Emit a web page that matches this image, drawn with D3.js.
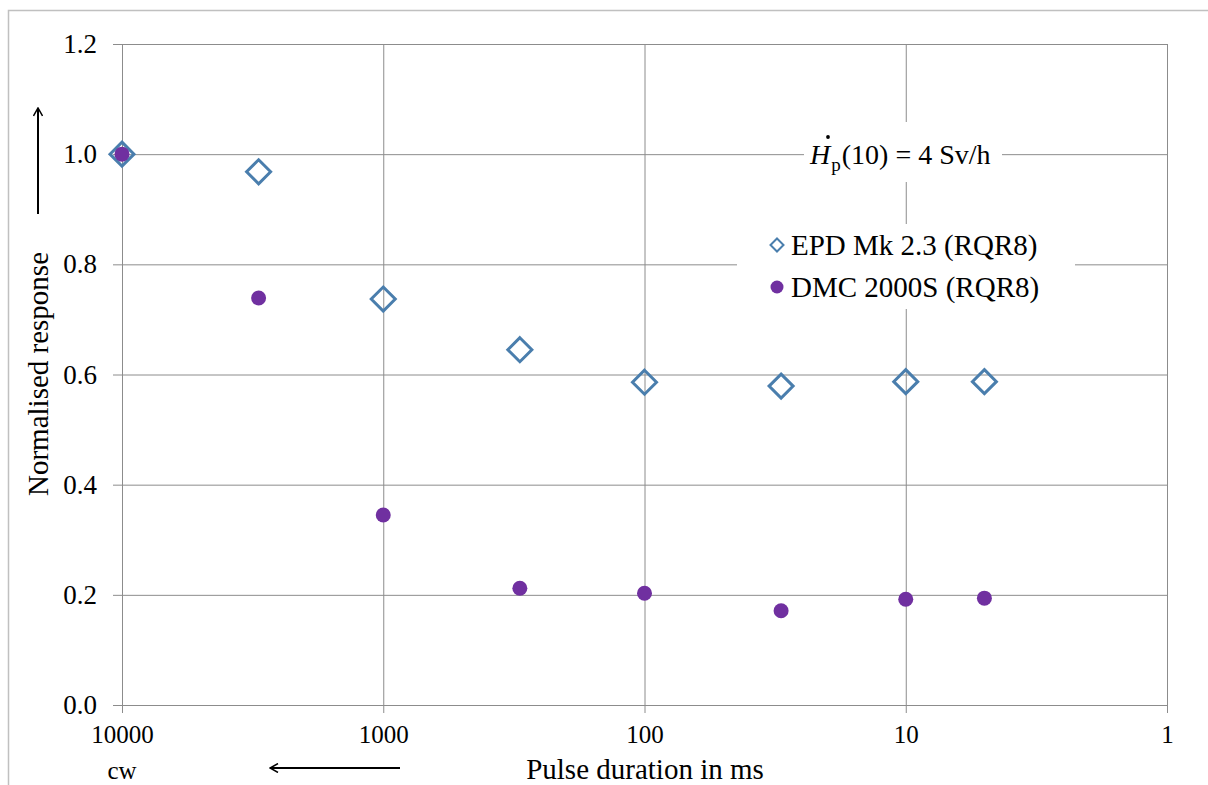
<!DOCTYPE html>
<html>
<head>
<meta charset="utf-8">
<script src="https://cdn.jsdelivr.net/npm/d3@7"></script>
<style>
  body { margin: 0; background: #fff; }
  svg text { font-family: "Liberation Serif", "Times New Roman", serif !important; fill: #000; }
</style>
</head>
<body>
<script>
// Pulse durations in ms (cw shown at 10000)
var durations = [10000, 3000, 1000, 300, 100, 30, 10, 5];
var epdValues = [1.0, 0.968, 0.737, 0.645, 0.586, 0.579, 0.587, 0.587];
var dmcValues = [1.0, 0.739, 0.345, 0.212, 0.203, 0.171, 0.192, 0.194];
var xTicks = [10000, 1000, 100, 10, 1];
var yTicks = [0, 0.2, 0.4, 0.6, 0.8, 1.0, 1.2];
var seriesNames = ["EPD Mk 2.3 (RQR8)", "DMC 2000S (RQR8)"];

var width = 1208, height = 785;
var plotLeft = 122, plotRight = 1167, plotTop = 44, plotBottom = 705;
var serif = '"Liberation Serif", "Times New Roman", serif';

var svg = d3.select('body').append('svg')
  .attr('width', width)
  .attr('height', height)
  .attr('font-family', serif);

// outer chart border
svg.append('path')
  .attr('d', 'M8.5,785 L8.5,10.5 L1208,10.5')
  .attr('fill', 'none')
  .attr('stroke', '#c0c0c0')
  .attr('stroke-width', 1.5);

var x = d3.scaleLog().domain([10000, 1]).range([plotLeft, plotRight]);
var y = d3.scaleLinear().domain([0, 1.2]).range([plotBottom, plotTop]);

var gridColor = '#8c8c8c';

// horizontal gridlines + outward tick marks
svg.append('g')
  .attr('transform', 'translate(' + plotLeft + ',0)')
  .call(d3.axisLeft(y).tickValues(yTicks).tickSizeInner(-(plotRight - plotLeft)).tickSizeOuter(0).tickFormat(''))
  .call(g => g.select('.domain').remove())
  .call(g => g.selectAll('line').attr('stroke', gridColor));
svg.append('g')
  .attr('transform', 'translate(' + plotLeft + ',0)')
  .call(d3.axisLeft(y).tickValues(yTicks).tickSize(9).tickPadding(16).tickFormat(d3.format('.1f')))
  .attr('font-family', serif)
  .call(g => g.select('.domain').remove())
  .call(g => g.selectAll('line').attr('stroke', gridColor))
  .call(g => g.selectAll('text').attr('font-size', 27).style('font-family', serif).attr('fill', '#000'));

// vertical gridlines + outward ticks
svg.append('g')
  .attr('transform', 'translate(0,' + plotBottom + ')')
  .call(d3.axisBottom(x).tickValues(xTicks).tickSizeInner(-(plotBottom - plotTop)).tickSizeOuter(0).tickFormat(''))
  .call(g => g.select('.domain').remove())
  .call(g => g.selectAll('line').attr('stroke', gridColor));
svg.append('g')
  .attr('transform', 'translate(0,' + plotBottom + ')')
  .call(d3.axisBottom(x).tickValues(xTicks).tickSize(8).tickPadding(12).tickFormat(d3.format('d')))
  .attr('font-family', serif)
  .call(g => g.select('.domain').remove())
  .call(g => g.selectAll('line').attr('stroke', gridColor))
  .call(g => g.selectAll('text').attr('font-size', 25).style('font-family', serif).attr('fill', '#000'));

// axis titles
svg.append('text')
  .attr('x', 645).attr('y', 779)
  .attr('text-anchor', 'middle')
  .attr('font-size', 29)
  .text('Pulse duration in ms');
svg.append('text')
  .attr('x', x(10000)).attr('y', 779)
  .attr('text-anchor', 'middle')
  .attr('font-size', 25)
  .text('cw');
svg.append('text')
  .attr('transform', 'translate(48,374) rotate(-90)')
  .attr('text-anchor', 'middle')
  .attr('font-size', 29)
  .text('Normalised response');

// arrows
svg.append('defs').append('marker')
  .attr('id', 'arr')
  .attr('viewBox', '0 0 10 10')
  .attr('refX', 9).attr('refY', 5)
  .attr('markerWidth', 10).attr('markerHeight', 10)
  .attr('markerUnits', 'userSpaceOnUse')
  .attr('orient', 'auto')
  .append('path')
  .attr('d', 'M1,0.5 L9,5 L1,9.5')
  .attr('fill', 'none')
  .attr('stroke', '#000')
  .attr('stroke-width', 1.5);
svg.append('line')
  .attr('x1', 38).attr('y1', 214).attr('x2', 38).attr('y2', 108)
  .attr('stroke', '#000').attr('stroke-width', 2)
  .attr('marker-end', 'url(#arr)');
svg.append('line')
  .attr('x1', 400).attr('y1', 768).attr('x2', 270).attr('y2', 768)
  .attr('stroke', '#000').attr('stroke-width', 2)
  .attr('marker-end', 'url(#arr)');

// annotation with white background
svg.append('rect')
  .attr('x', 804).attr('y', 122).attr('width', 198).attr('height', 60)
  .attr('fill', '#fff');
var ann = svg.append('text')
  .attr('x', 810).attr('y', 164)
  .attr('font-size', 28);
ann.append('tspan').attr('font-style', 'italic').text('H');
ann.append('tspan').attr('font-size', 19).attr('dy', 7).attr('dx', 1).text('p');
ann.append('tspan').attr('dy', -7).attr('dx', 1).text('(10) = 4 Sv/h');
// dot over H
svg.append('circle')
  .attr('cx', 828).attr('cy', 137).attr('r', 1.9).attr('fill', '#000');

// data points
var epd = durations.map((d, i) => ({ x: d, y: epdValues[i] }));
var dmc = durations.map((d, i) => ({ x: d, y: dmcValues[i] }));

var diamond = function(s) {
  return 'M0,' + (-s) + 'L' + s + ',0L0,' + s + 'L' + (-s) + ',0Z';
};

svg.selectAll('path.epd')
  .data(epd)
  .enter()
  .append('path')
  .attr('class', 'epd')
  .attr('d', diamond(12))
  .attr('transform', d => 'translate(' + x(d.x) + ',' + y(d.y) + ')')
  .attr('fill', 'none')
  .attr('stroke', '#4a7ead')
  .attr('stroke-width', 3);

svg.selectAll('circle.dmc')
  .data(dmc)
  .enter()
  .append('circle')
  .attr('class', 'dmc')
  .attr('cx', d => x(d.x))
  .attr('cy', d => y(d.y))
  .attr('r', 7.5)
  .attr('fill', '#7030a0');

// legend
svg.append('rect')
  .attr('x', 737).attr('y', 224).attr('width', 338).attr('height', 85)
  .attr('fill', '#fff');
svg.append('path')
  .attr('d', diamond(6.5))
  .attr('transform', 'translate(777,245)')
  .attr('fill', 'none')
  .attr('stroke', '#4a7ead')
  .attr('stroke-width', 2);
svg.append('circle')
  .attr('cx', 777).attr('cy', 287).attr('r', 6.5)
  .attr('fill', '#7030a0');
svg.selectAll('text.leg')
  .data(seriesNames)
  .enter()
  .append('text')
  .attr('class', 'leg')
  .attr('x', 791)
  .attr('y', (d, i) => 255 + i * 42)
  .attr('font-size', 29)
  .text(d => d);
</script>
</body>
</html>
